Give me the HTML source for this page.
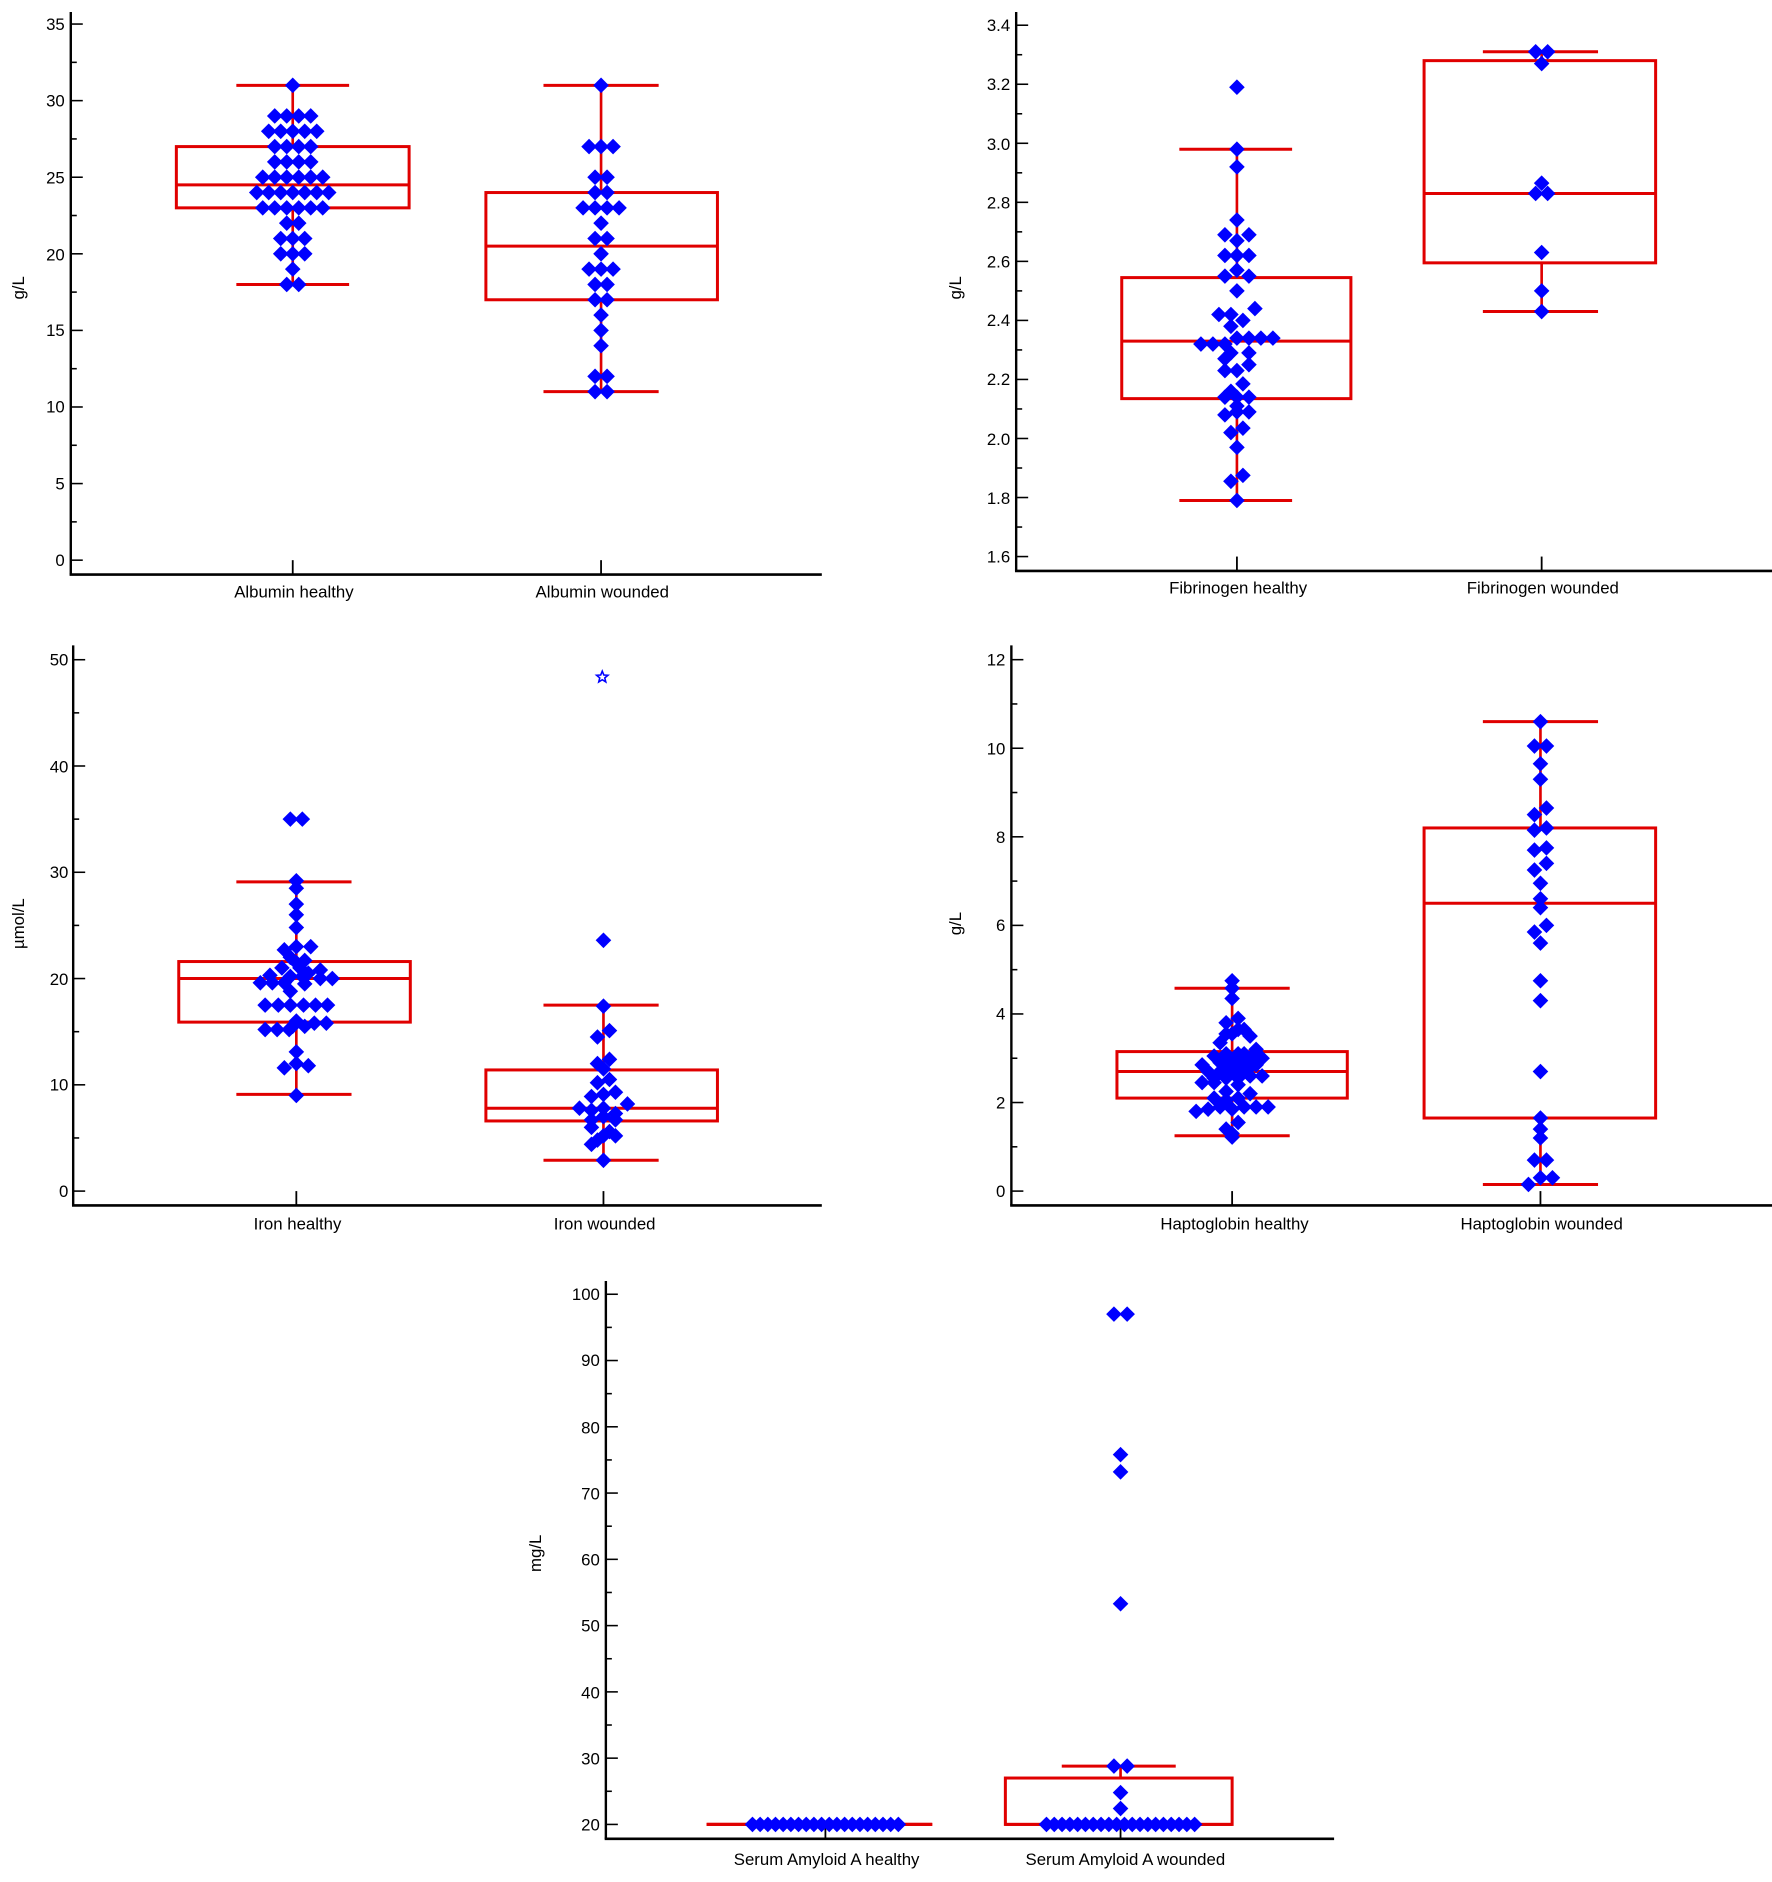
<!DOCTYPE html>
<html><head><meta charset="utf-8"><style>
html,body{margin:0;padding:0;background:#fff;}
svg{display:block;}
text{font-family:"Liberation Sans",Arial,sans-serif;fill:#000;}
.t{font-size:14px;text-anchor:end;}
.c{font-size:14px;text-anchor:middle;}
</style></head><body>
<svg id="s" width="1772" height="1882" viewBox="0 0 1477 1569" preserveAspectRatio="none" xmlns="http://www.w3.org/2000/svg">
<rect width="1477" height="1569" fill="#fff"/>
<g id="g"></g>
<g>
<text class="t" x="54" y="472">0</text><text class="t" x="54" y="408">5</text><text class="t" x="54" y="344">10</text><text class="t" x="54" y="280">15</text><text class="t" x="54" y="217">20</text><text class="t" x="54" y="153">25</text><text class="t" x="54" y="89">30</text><text class="t" x="54" y="25">35</text>
<text class="c" x="245" y="498">Albumin healthy</text><text class="c" x="502" y="498">Albumin wounded</text>
<text class="c" transform="translate(20,240) rotate(-90)">g/L</text>
</g>
<g>
<text class="t" x="842" y="469">1.6</text><text class="t" x="842" y="420">1.8</text><text class="t" x="842" y="371">2.0</text><text class="t" x="842" y="321">2.2</text><text class="t" x="842" y="272">2.4</text><text class="t" x="842" y="223">2.6</text><text class="t" x="842" y="174">2.8</text><text class="t" x="842" y="125">3.0</text><text class="t" x="842" y="75">3.2</text><text class="t" x="842" y="26">3.4</text>
<text class="c" x="1032" y="495">Fibrinogen healthy</text><text class="c" x="1286" y="495">Fibrinogen wounded</text>
<text class="c" transform="translate(801,240) rotate(-90)">g/L</text>
</g>
<g>
<text class="t" x="57" y="998">0</text><text class="t" x="57" y="909">10</text><text class="t" x="57" y="821">20</text><text class="t" x="57" y="732">30</text><text class="t" x="57" y="644">40</text><text class="t" x="57" y="555">50</text>
<text class="c" x="248" y="1025">Iron healthy</text><text class="c" x="504" y="1025">Iron wounded</text>
<text class="c" transform="translate(20,770) rotate(-90)">µmol/L</text>
</g>
<g>
<text class="t" x="838" y="998">0</text><text class="t" x="838" y="924">2</text><text class="t" x="838" y="850">4</text><text class="t" x="838" y="776">6</text><text class="t" x="838" y="703">8</text><text class="t" x="838" y="629">10</text><text class="t" x="838" y="555">12</text>
<text class="c" x="1029" y="1025">Haptoglobin healthy</text><text class="c" x="1285" y="1025">Haptoglobin wounded</text>
<text class="c" transform="translate(801,770) rotate(-90)">g/L</text>
</g>
<g>
<text class="t" x="500" y="1526">20</text><text class="t" x="500" y="1471">30</text><text class="t" x="500" y="1416">40</text><text class="t" x="500" y="1360">50</text><text class="t" x="500" y="1305">60</text><text class="t" x="500" y="1250">70</text><text class="t" x="500" y="1195">80</text><text class="t" x="500" y="1139">90</text><text class="t" x="500" y="1084">100</text>
<text class="c" x="689" y="1555">Serum Amyloid A healthy</text><text class="c" x="938" y="1555">Serum Amyloid A wounded</text>
<text class="c" transform="translate(451,1295) rotate(-90)">mg/L</text>
</g>
</svg>
<script>
(function(){
var g=document.getElementById('g'),out='';
function L(x1,y1,x2,y2,c,w){out+='<line x1="'+x1+'" y1="'+y1+'" x2="'+x2+'" y2="'+y2+'" stroke="'+c+'" stroke-width="'+w+'"/>';}
function D(x,y){var h=6.5;out+='<polygon points="'+x+','+(y-h)+' '+(x+h)+','+y+' '+x+','+(y+h)+' '+(x-h)+','+y+'" fill="#0000ff"/>';}
function panel(p){
  var Y=function(v){return p.y0-(v-p.v0)*p.k;};
  L(p.ax,p.top,p.ax,p.bot,'#000',2);L(p.ax-1,p.bot,p.right,p.bot,'#000',2.2);
  for(var v=p.v0;v<=p.v1+1e-9;v+=p.minor){var maj=Math.abs(Math.round((v-p.v0)/p.major)*p.major-(v-p.v0))<1e-6;L(p.ax,Y(v),p.ax+(maj?10:5),Y(v),'#000',1.3);}
  p.cats.forEach(function(c){
    L(c.x,p.bot-12,c.x,p.bot,'#000',1.5);
    var r='#e00000';
    if(c.box){var b=c.box;
      L(c.x,Y(b.lo),c.x,Y(b.q1),r,2.2);L(c.x,Y(b.q3),c.x,Y(b.hi),r,2.2);
      L(b.c1,Y(b.lo),b.c2,Y(b.lo),r,2.5);L(b.c1,Y(b.hi),b.c2,Y(b.hi),r,2.5);
      out+='<rect x="'+b.x1+'" y="'+Y(b.q3)+'" width="'+(b.x2-b.x1)+'" height="'+(Y(b.q1)-Y(b.q3))+'" fill="none" stroke="'+r+'" stroke-width="2.5"/>';
      L(b.x1,Y(b.med),b.x2,Y(b.med),r,2.5);
    }
    var s=c.s||10;
    c.pts.forEach(function(a){for(var i=1;i<a.length;i++)D(c.x+a[i]*s,Y(a[0]));});
  });
}
panel({ax:59,top:10,bot:479,right:685,y0:467,v0:0,v1:35,k:12.77,major:5,minor:2.5,cats:[
 {x:244,box:{x1:147,x2:341,q1:23,q3:27,med:24.5,lo:18,hi:31,c1:197,c2:291},pts:[[31,0],[29,-1.5,-.5,.5,1.5],[28,-2,-1,0,1,2],[27,-1.5,-.5,.5,1.5],[26,-1.5,-.5,.5,1.5],[25,-2.5,-1.5,-.5,.5,1.5,2.5],[24,-3,-2,-1,0,1,2,3],[23,-2.5,-1.5,-.5,.5,1.5,2.5],[22,-.5,.5],[21,-1,0,1],[20,-1,0,1],[19,0],[18,-.5,.5]]},
 {x:501,box:{x1:405,x2:598,q1:17,q3:24,med:20.5,lo:11,hi:31,c1:453,c2:549},pts:[[31,0],[27,-1,0,1],[25,-.5,.5],[24,-.5,.5],[23,-1.5,-.5,.5,1.5],[22,0],[21,-.5,.5],[20,0],[19,-1,0,1],[18,-.5,.5],[17,-.5,.5],[16,0],[15,0],[14,0],[12,-.5,.5],[11,-.5,.5]]}]});
panel({ax:847,top:10,bot:476,right:1477,y0:464,v0:1.6,v1:3.4,k:246.1,major:.2,minor:.1,cats:[
 {x:1031,box:{x1:935,x2:1126,q1:2.135,q3:2.545,med:2.33,lo:1.79,hi:2.98,c1:983,c2:1077},pts:[[3.19,0],[2.98,0],[2.92,0],[2.74,0],[2.69,-1,1],[2.67,0],[2.62,-1,0,1],[2.57,0],[2.55,-1,1],[2.5,0],[2.44,1.5],[2.42,-1.5,-.5],[2.4,.5],[2.38,-.5],[2.34,0,1,2,3],[2.32,-3,-2,-1],[2.29,-.5,1],[2.27,-1],[2.25,1],[2.23,-1,0],[2.185,.5],[2.16,-.5],[2.14,-1,0,1],[2.11,0],[2.09,0,1],[2.08,-1],[2.035,.5],[2.02,-.5],[1.97,0],[1.875,.5],[1.855,-.5],[1.79,0]]},
 {x:1285,box:{x1:1187,x2:1380,q1:2.595,q3:3.28,med:2.83,lo:2.43,hi:3.31,c1:1236,c2:1332},pts:[[3.31,-.5,.5],[3.27,0],[2.865,0],[2.83,-.5,.5],[2.63,0],[2.5,0],[2.43,0]]}]});
panel({ax:61,top:538,bot:1005,right:685,y0:993,v0:0,v1:50,k:8.86,major:10,minor:5,cats:[
 {x:247,box:{x1:149,x2:342,q1:15.9,q3:21.6,med:20,lo:9.1,hi:29.1,c1:197,c2:293},pts:[[35,-.5,.5],[29.2,0],[28.5,0],[27,0],[26,0],[24.8,0],[23,0,1.2],[22.7,-1],[22,-.5],[21.7,.7],[21.5,0],[21,-1.2,.3],[20.8,2],[20.5,1],[20.3,-2.2],[20.2,-.5,.5],[20,3,2],[19.6,-3,-2,-1],[19.5,.7],[18.8,-.5],[17.5,-2.6,-1.5,-.5,.6,1.6,2.6],[16,0],[15.8,1.5,2.5],[15.5,-.3,.7],[15.2,-2.6,-1.6,-.6],[13.1,0],[12,0],[11.8,1],[11.6,-1],[9,0]]},
 {x:503,box:{x1:405,x2:598,q1:6.6,q3:11.4,med:7.8,lo:2.9,hi:17.5,c1:453,c2:549},pts:[[23.6,0],[17.4,0],[15.1,.5],[14.5,-.5],[12.4,.5],[12,-.5],[11.5,0],[10.5,.5],[10.2,-.5],[9.3,1],[9.1,0],[8.9,-1],[8.2,2],[7.8,-2,0],[7.6,-1],[7.3,1],[7,0],[6.7,-1,1],[6,-1],[5.6,.5],[5.2,0,1],[4.8,-.5],[4.4,-1],[2.9,0]]}]});
panel({ax:843,top:538,bot:1005,right:1477,y0:993,v0:0,v1:12,k:36.92,major:2,minor:1,cats:[
 {x:1027,box:{x1:931,x2:1123,q1:2.1,q3:3.15,med:2.7,lo:1.25,hi:4.58,c1:979,c2:1075},pts:[[4.75,0],[4.58,0],[4.35,0],[3.9,.5],[3.8,-.5],[3.65,.5,1],[3.55,-.5,0],[3.5,1.5],[3.35,-1],[3.2,2],[3.1,-.5,.5,1],[3.05,-1.5],[3,2.5,1.5],[2.9,-1,0,1],[2.85,-2.5,2],[2.8,-.5,.5,1.5],[2.7,-2,-1,0,1],[2.6,2.5,1.5],[2.55,-1.5,-.5,.5],[2.45,-2.5,-1.5],[2.4,.5],[2.25,-.5],[2.2,1.5],[2.1,-1.5,.5],[2.05,-.5],[1.9,-1,1,2,3],[1.85,-2,0],[1.8,-3],[1.55,.5],[1.4,-.5],[1.3,0],[1.22,0]]},
 {x:1284,box:{x1:1187,x2:1380,q1:1.65,q3:8.2,med:6.5,lo:.15,hi:10.6,c1:1236,c2:1332},pts:[[10.6,0],[10.05,-.5,.5],[9.65,0],[9.3,0],[8.65,.5],[8.5,-.5],[8.2,.5],[8.15,-.5],[7.75,.5],[7.7,-.5],[7.4,.5],[7.25,-.5],[6.95,0],[6.6,0],[6.4,0],[6,.5],[5.85,-.5],[5.6,0],[4.75,0],[4.3,0],[2.7,0],[1.65,0],[1.4,0],[1.2,0],[.7,-.5,.5],[.3,0,1],[.15,-1]]}]});
var h20=[20],w20=[20];for(var i=0;i<20;i++){h20.push((i-9.5)*0.64);w20.push((i-9.5)*0.65);}
panel({ax:505,top:1068,bot:1533,right:1112,y0:1521,v0:20,v1:100,k:5.525,major:10,minor:5,cats:[
 {x:688,box:{x1:589,x2:777,q1:20,q3:20,med:20,lo:20,hi:20,c1:589,c2:777},pts:[h20]},
 {x:934,box:{x1:838,x2:1027,q1:20,q3:27,med:20,lo:20,hi:28.8,c1:885,c2:980},pts:[[97,-.55,.55],[75.8,0],[73.2,0],[53.3,0],[28.8,-.55,.55],[24.8,0],[22.4,0],w20]}]});
// star outlier
var cx=502,cy=564.5,pts='';for(var k=0;k<10;k++){var rr=(k%2?2.2:5),a=-Math.PI/2+k*Math.PI/5;pts+=(cx+rr*Math.cos(a)).toFixed(2)+','+(cy+rr*Math.sin(a)).toFixed(2)+' ';}
out+='<polygon points="'+pts+'" fill="none" stroke="#0000ff" stroke-width="1.3"/>';
g.innerHTML=out;
})();
</script>
</body></html>
